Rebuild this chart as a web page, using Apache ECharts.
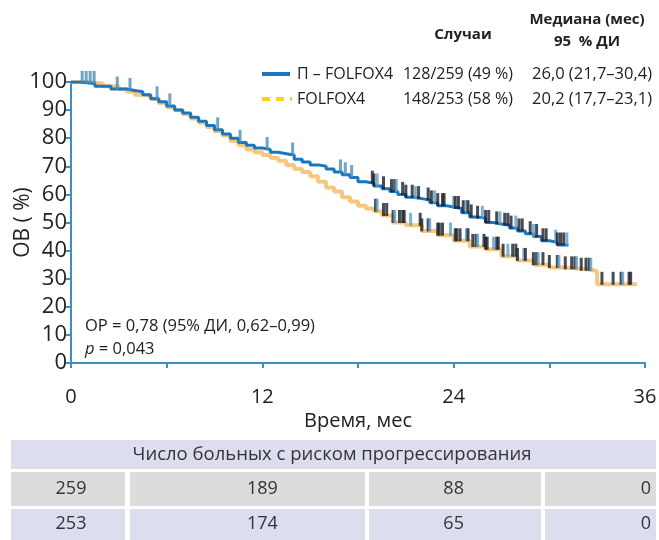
<!DOCTYPE html>
<html><head><meta charset="utf-8">
<script src="https://cdn.jsdelivr.net/npm/echarts@6/dist/echarts.min.js"></script>
<style>html,body{margin:0;padding:0;background:#fff}#c{width:659px;height:540px}</style>
</head><body><div id="c"></div>
<script>
// ---- data ----
const blueT = [0,0.5,1.5,2.5,3.5,4,4.5,5,5.5,6,6.5,7,7.5,8,8.5,9,9.5,10,10.5,11,11.5,12,12.5,13,13.5,14,14.5,15,15.5,16,16.5,17,17.5,18,18.5,19,19.5,20,20.5,21,21.5,22,22.5,23,23.5,24,24.5,25,25.5,26,26.5,27,27.5,28,28.5,29,29.5,30,30.5,31.2];
const blueS = [100,99.5,98.5,97.5,97,96.5,95.5,94,93,91.5,90,89,87.5,86,84.5,83,81.5,80,78.5,77.5,76.5,76,75,74.5,74,72.5,71.5,70.5,70,69,68,67,66,64.5,64,63,62,61,60,59,58.5,58,57,56,55.5,55,53.5,52,51.5,50,49.5,49,48,47,46,45,43.5,43,42,42];
const orangeT = [0,1,2,3,3.5,4,4.5,5,5.5,6,6.5,7,7.5,8,8.5,9,9.5,10,10.5,11,11.5,12,12.5,13,13.5,14,14.5,15,15.5,16,16.5,17,17.5,18,18.5,19,19.5,20.2,21,22,23,24,25,26,27,28,29,30,31,32,32.8,33,35.5];
const orangeS = [100,99.5,98.5,97.5,96.5,95.5,95,94,92.5,91,90,88.5,87,85.5,84,82.5,81,79,77.5,76,75,74,73,72,70.5,69,68,66.5,64.5,62.5,61,59,57.5,56,55,54,52.5,50,49,47,45.5,43.5,41.5,40.5,38,36.5,35,34,33.5,33,32.5,28,28];
const blueCensor = [0.7,0.95,1.2,1.45,2.9,3.7,5.4,6.2,9.2,10.6,12.3,13.9,16.9,17.2,17.6,18.9,19.0,19.2,19.6,20.1,20.3,20.4,20.8,21.0,21.4,21.6,21.8,22.4,22.6,22.8,23.0,23.3,23.4,24.0,24.1,24.3,24.6,24.8,24.9,25.1,25.5,25.8,26.0,26.2,26.7,26.9,27.2,27.4,27.6,27.9,28.1,28.3,28.8,29.0,29.2,29.6,29.8,30.4,30.5,30.7,30.9,31.1];
const orangeCensor = [19.1,19.2,19.6,19.8,20.2,20.3,20.6,20.8,20.9,21.3,21.9,22.0,22.4,22.5,23.0,23.1,23.3,23.8,24.1,24.2,24.4,24.8,24.9,25.2,25.4,25.5,25.9,26.0,26.1,26.5,26.7,26.8,27.1,27.4,27.7,27.9,28.0,28.4,28.5,29.0,29.2,29.3,29.6,30.0,30.5,30.6,31.0,31.4,31.6,31.7,32.0,32.3,32.5,32.6,33.3,34.0,34.5,34.6,35.0,35.1];
const riskTimes = [0,12,24,36];
const riskBlue = [259,189,88,0];
const riskOrange = [253,174,65,0];
const legendRows = [
  {name:'П – FOLFOX4', cases:'128/259 (49 %)', median:'26,0 (21,7–30,4)'},
  {name:'FOLFOX4', cases:'148/253 (58 %)', median:'20,2 (17,7–23,1)'}
];
const xTickLabels = [0,12,24,36];

// ---- helpers ----
function stepVal(T,S,t){let v=S[0];for(let i=0;i<T.length;i++){if(T[i]<=t)v=S[i];else break;}return v;}
const zip=(T,S)=>T.map((t,i)=>[t,S[i]]);
const FONT='"Open Sans", "Noto Sans", sans-serif';
const blueCol='#1b76bf', orangeCol='#f7c77f', axisCol='#3d8fbe';
const censorColor=p=>p.value[0]<18?'#4a8db5':(p.dataIndex%4===1?'#5f9ec6':'#1a1f2a');

const chart = echarts.init(document.getElementById('c'), null, {renderer:'canvas'});
chart.setOption({
  backgroundColor:'#fff',
  animation:false,
  grid:{left:71,right:14,top:82,bottom:177,containLabel:false,outerBoundsMode:'none'},
  xAxis:{type:'value',min:0,max:36,interval:6,
    axisLine:{lineStyle:{color:axisCol,width:2}},
    axisTick:{show:true,length:5,lineStyle:{color:axisCol,width:2}},
    splitLine:{show:false},
    axisLabel:{fontFamily:FONT,fontSize:20,color:'#222',margin:24,
      formatter:v=>xTickLabels.indexOf(v)>=0?String(v):''},
    name:'Время, мес',nameLocation:'middle',nameGap:48,nameMoveOverlap:false,
    nameTextStyle:{fontFamily:FONT,fontSize:20,color:'#222'}},
  yAxis:{type:'value',min:0,max:100,interval:10,
    axisLine:{show:true,lineStyle:{color:axisCol,width:2}},
    axisTick:{show:true,length:5,lineStyle:{color:axisCol,width:2}},
    splitLine:{show:false},
    axisLabel:{fontFamily:FONT,fontSize:22,color:'#222',margin:4},
    name:'ОВ ( %)',nameLocation:'middle',nameGap:37,nameRotate:90,nameMoveOverlap:false,
    nameTextStyle:{fontFamily:FONT,fontSize:21,color:'#222'}},
  series:[
    {type:'line',step:'end',data:zip(orangeT,orangeS),symbol:'none',
      lineStyle:{color:orangeCol,width:4},z:2},
    {type:'line',step:'end',data:zip(blueT,blueS),symbol:'none',
      lineStyle:{color:blueCol,width:3},z:3},
    {type:'scatter',data:orangeCensor.map(t=>[t,stepVal(orangeT,orangeS,t)]),
      symbol:'rect',symbolSize:[3,13],symbolOffset:[0,-6],z:4,
      itemStyle:{color:censorColor}},
    {type:'scatter',data:blueCensor.map(t=>[t,stepVal(blueT,blueS,t)]),
      symbol:'rect',symbolSize:[3,13],symbolOffset:[0,-6],z:4,
      itemStyle:{color:censorColor}}
  ]
});

// ---- graphics: legend, annotation, at-risk table ----
const g=[];
const txt=(x,y,s,o)=>({type:'text',x:x,y:y,style:Object.assign({text:s,font:'17px '+FONT,fill:'#222',textVerticalAlign:'middle'},o||{})});
g.push(txt(463,35,'Случаи',{font:'bold 15px '+FONT,textAlign:'center'}));
g.push(txt(587,20,'Медиана (мес)',{font:'bold 15px '+FONT,textAlign:'center'}));
g.push(txt(587,42,'95  % ДИ',{font:'bold 15px '+FONT,textAlign:'center'}));
g.push({type:'line',shape:{x1:262,y1:74,x2:290,y2:74},style:{stroke:blueCol,lineWidth:4}});
g.push({type:'line',shape:{x1:262,y1:99,x2:292,y2:99},style:{stroke:'#fcd21e',lineWidth:4,lineDash:[8,6]}});
[74,99].forEach((y,i)=>{
  g.push(txt(297,y,legendRows[i].name,{font:'16px '+FONT}));
  g.push(txt(513,y,legendRows[i].cases,{font:'16px '+FONT,textAlign:'right'}));
  g.push(txt(652,y,legendRows[i].median,{font:'16.5px '+FONT,textAlign:'right'}));
});
g.push({type:'text',x:85,y:326,style:{text:'ОР = 0,78 (95% ДИ, 0,62–0,99)',font:'16.5px '+FONT,fill:'#222',textVerticalAlign:'middle'}});
g.push({type:'text',x:85,y:349,style:{text:'{i|p} = 0,043',textVerticalAlign:'middle',
  rich:{i:{fontStyle:'italic',fontFamily:FONT,fontSize:16.5,fill:'#222'}},font:'16.5px '+FONT,fill:'#222'}});
// table
g.push({type:'rect',shape:{x:11,y:440,width:645,height:29},style:{fill:'#dcdef0'}});
g.push(txt(332,455,'Число больных с риском прогрессирования',{font:'18.5px '+FONT,fill:'#333',textAlign:'center'}));
const cells=[[11,125],[130,365],[369,541],[545,656]];
cells.forEach(c=>{
  g.push({type:'rect',shape:{x:c[0],y:472,width:c[1]-c[0],height:34},style:{fill:'#dcdcdc'}});
  g.push({type:'rect',shape:{x:c[0],y:509,width:c[1]-c[0],height:31},style:{fill:'#dcdef0'}});
});
riskTimes.forEach((t,i)=>{
  const x=chart.convertToPixel({xAxisIndex:0},t);
  const last=i===riskTimes.length-1;
  const o={font:'18px '+FONT,fill:'#333',textAlign:last?'right':'center'};
  g.push(txt(last?x+6:x,489,String(riskBlue[i]),o));
  g.push(txt(last?x+6:x,524,String(riskOrange[i]),o));
});
chart.setOption({graphic:g});
</script></body></html>
